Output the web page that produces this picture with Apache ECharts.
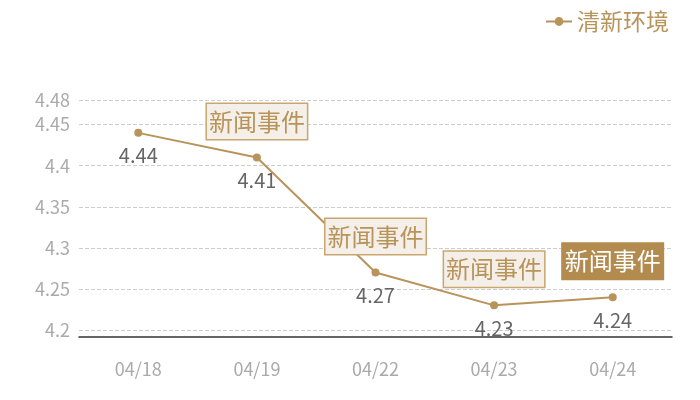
<!DOCTYPE html>
<html lang="zh" style="height: 100%">
<head>
    <meta charset="utf-8">
</head>
<body style="height: 100%; margin: 0">
    <div id="container" style="width: 700px; height: 400px"></div>
    <script src="https://cdn.jsdelivr.net/npm/echarts@6/dist/echarts.min.js"></script>
    <script>
        // 数据
        var dates = ['04/18', '04/19', '04/22', '04/23', '04/24'];
        var values = [4.44, 4.41, 4.27, 4.23, 4.24];
        var eventDates = ['04/19', '04/22', '04/23', '04/24'];
        var eventText = '新闻事件';

        var gold = '#b8935a';
        var font = '"Noto Sans CJK SC", "Noto Sans", sans-serif';

        var myChart = echarts.init(document.getElementById('container'), null, { renderer: 'canvas' });

        var markData = eventDates.map(function (d, i) {
            var idx = dates.indexOf(d);
            var last = i === eventDates.length - 1;
            return {
                coord: [d, values[idx]],
                label: {
                    backgroundColor: last ? '#b38b4f' : '#f4efe8',
                    borderColor: last ? '#b38b4f' : '#c9a66f',
                    color: last ? '#ffffff' : gold
                }
            };
        });

        var option = {
            textStyle: { fontFamily: font },
            legend: {
                right: 26,
                top: 5,
                itemWidth: 26,
                itemHeight: 11,
                itemGap: 6,
                textStyle: { color: gold, fontSize: 23, fontFamily: font },
                data: ['清新环境']
            },
            grid: { left: 79, right: 28, top: 100, bottom: 70 },
            xAxis: {
                type: 'category',
                data: dates,
                offset: 7,
                axisLine: { lineStyle: { color: '#333', width: 1.5 } },
                axisTick: { show: false },
                axisLabel: { color: '#aaa', fontSize: 18, margin: 23 }
            },
            yAxis: {
                type: 'value',
                min: 4.2,
                max: 4.48,
                interval: 0.05,
                axisLine: { show: false },
                axisTick: { show: false },
                axisLabel: { color: '#aaa', fontSize: 18, margin: 9 },
                splitLine: { lineStyle: { color: '#ccc', type: 'dashed' } }
            },
            series: [{
                name: '清新环境',
                type: 'line',
                data: values,
                symbol: 'circle',
                symbolSize: 8,
                itemStyle: { color: gold },
                lineStyle: { color: gold, width: 2 },
                label: {
                    show: true,
                    position: 'bottom',
                    distance: 9,
                    color: '#666',
                    fontSize: 20
                },
                markPoint: {
                    symbol: 'circle',
                    symbolSize: 1,
                    itemStyle: { color: 'transparent' },
                    label: {
                        show: true,
                        position: 'inside',
                        offset: [0, -36],
                        formatter: eventText,
                        fontSize: 24,
                        lineHeight: 29,
                        padding: [3, 2],
                        borderWidth: 1.5
                    },
                    data: markData
                }
            }]
        };

        myChart.setOption(option);
    </script>
</body>
</html>
